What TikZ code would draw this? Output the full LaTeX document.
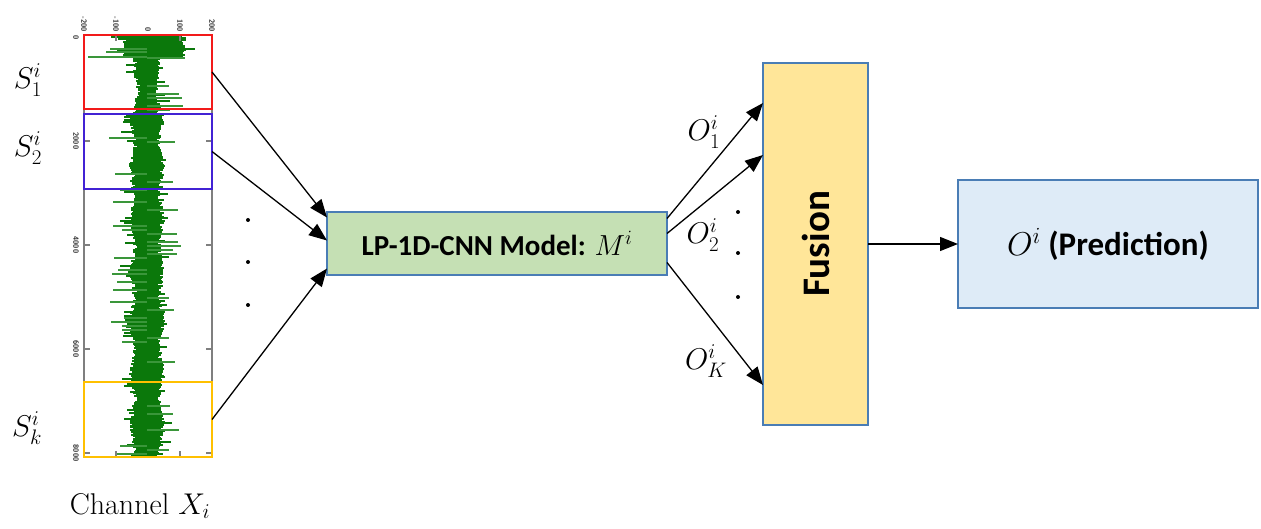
\RequirePackage{fix-cm}
\documentclass[tikz,border=0pt]{standalone}
\usepackage{fontspec}
\newfontfamily\calfont{Carlito}
\usetikzlibrary{arrows.meta,calc}
\definecolor{sigdark}{HTML}{0B780B}
\definecolor{siglight}{HTML}{3A963A}
\definecolor{boxborder}{HTML}{4A7DB5}
\definecolor{modelfill}{HTML}{C5E0B4}
\definecolor{fusionfill}{HTML}{FFE699}
\definecolor{predfill}{HTML}{DEEBF7}
\definecolor{segred}{HTML}{F21A1A}
\definecolor{segblue}{HTML}{4222D4}
\definecolor{segorange}{HTML}{FFC000}
\definecolor{framegray}{HTML}{7F7F7F}
\begin{document}
\begin{tikzpicture}[x=1pt,y=-1pt,
  arr/.style={-{Triangle[length=18pt,width=14pt]}, line width=1.3pt, black},
  blockbox/.style={draw=boxborder, line width=1.8pt, inner sep=0pt, outer sep=0pt},
  segbox/.style={line width=2.6pt, inner sep=0pt, outer sep=0pt, minimum width=128pt},
  mathlbl/.style={font=\fontsize{30}{34}\selectfont, inner sep=0pt},
  ticklbl/.style={font=\fontsize{7.5}{8}\selectfont\sffamily\bfseries, text=black!85, inner sep=1pt, rotate=-90},
  dotmark/.style={circle, fill=black, inner sep=0pt, minimum size=4pt},
  sig/.style={fill=sigdark},
  spk/.style={draw=siglight, line width=1.3pt},
  frame/.style={draw=framegray, line width=1.2pt}
]
\useasboundingbox (0,0) rectangle (1261,529);

% ---------- signal ----------
\pgfmathsetseed{4711}
\foreach \yy in {37,...,455}{
  \pgfmathsetmacro\base{(\yy<58 ? 20 : (\yy<115 ? 8 : 11) + 2*sin(\yy*7))}
  \pgfmathsetmacro\wl{\base+5*rnd+(rnd<0.12 ? 12*rnd : 0)}
  \pgfmathsetmacro\wr{\base+(\yy<58 ? 14 : 0)+5*rnd+(rnd<0.12 ? 12*rnd : 0)}
  \fill[sig] ({147-\wl},\yy-0.7) rectangle ({147+\wr},\yy+0.7);
}
\foreach \yy in {42,46,...,455}{
  \pgfmathsetmacro\p{rnd}
  \pgfmathsetmacro\sd{rnd}
  \pgfmathsetmacro\len{20+18*rnd}
  \ifdim\p pt<0.45pt
    \ifdim\sd pt<0.5pt
      \draw[spk] (147,\yy) -- ++(-\len,0);
    \else
      \draw[spk] (147,\yy) -- ++(\len,0);
    \fi
  \fi
}
\draw[spk] (147,57) -- (88,57);
\draw[spk] (147,52) -- (106,52);
\draw[spk] (147,49) -- (110,49);

% ---------- axes frame ----------
\draw[frame] (84,35) rectangle (212,457);
\foreach \ty in {141,245,349,453}{
  \draw[frame] (84,\ty) -- (90,\ty);
  \draw[frame] (212,\ty) -- (206,\ty);
}
\foreach \tx in {116,180}{
  \draw[frame] (\tx,35) -- (\tx,41);
  \draw[frame] (\tx,457) -- (\tx,451);
}
\foreach \tx/\tl [count=\i] in {84/-200,116/-100,148/0,180/100,212/200}{
  \node[ticklbl, anchor=east] (tx\i) at (\tx,33) {\tl};
}
\foreach \ty/\tl [count=\i] in {38/0,141/2000,245/4000,349/6000,453/8000}{
  \node[ticklbl, anchor=north] (ty\i) at (80,\ty) {\tl};
}

% ---------- segment boxes ----------
\node[segbox, draw=segred, minimum height=74pt] (s1) at (148,72) {};
\node[segbox, draw=segblue, minimum height=75pt] (s2) at (148,151.5) {};
\node[segbox, draw=segorange, minimum height=75pt] (sk) at (148,419.5) {};

\node[mathlbl] (ls1) at (28,80) {$S_1^i$};
\node[mathlbl] (ls2) at (28,148) {$S_2^i$};
\node[mathlbl] (lsk) at (27,428) {$S_k^i$};
\node[font=\fontsize{30}{34}\selectfont, inner sep=0pt] (chan) at (140,506) {Channel $X_i$};

% ---------- blocks ----------
\node[blockbox, fill=modelfill, minimum width=340pt, minimum height=63pt,
      font=\fontsize{29}{34}\selectfont\calfont\bfseries] (m) at (497,243.5) {LP-1D-CNN Model: $M^i$};
\node[blockbox, fill=fusionfill, minimum width=105pt, minimum height=362pt] (f) at (815.5,244) {};
\node[rotate=90, font=\fontsize{39}{44}\selectfont\calfont\bfseries, inner sep=0pt] (ftxt) at (f.center) {Fusion};
\node[blockbox, fill=predfill, minimum width=300pt, minimum height=128pt,
      font=\fontsize{33}{38}\selectfont\calfont\bfseries] (p) at (1108,244) {$O^i$ (Prediction)};

% ---------- input arrows ----------
\draw[arr] (s1.east) -- ($(m.west)+(0,-26)$);
\draw[arr] (s2.east) -- ($(m.west)+(0,-3)$);
\draw[arr] (sk.east) -- ($(m.west)+(0,25)$);
\node[dotmark] (d1) at (248,220) {};
\node[dotmark] (d2) at (248,262) {};
\node[dotmark] (d3) at (248,305) {};

% ---------- output arrows ----------
\draw[arr] ($(m.east)+(0,-25)$) -- ($(f.west)+(0,-141)$);
\draw[arr] ($(m.east)+(0,-10)$) -- ($(f.west)+(0,-89)$);
\draw[arr] ($(m.east)+(0,19)$) -- ($(f.west)+(0,141)$);
\node[mathlbl] (o1) at (704,132) {$O_1^i$};
\node[mathlbl] (o2) at (703,235) {$O_2^i$};
\node[mathlbl] (ok) at (706,361) {$O_K^i$};
\node[dotmark] (e1) at (738,212) {};
\node[dotmark] (e2) at (738,253) {};
\node[dotmark] (e3) at (738,297) {};

\draw[arr] (f.east) -- (p.west);
\end{tikzpicture}
\end{document}
